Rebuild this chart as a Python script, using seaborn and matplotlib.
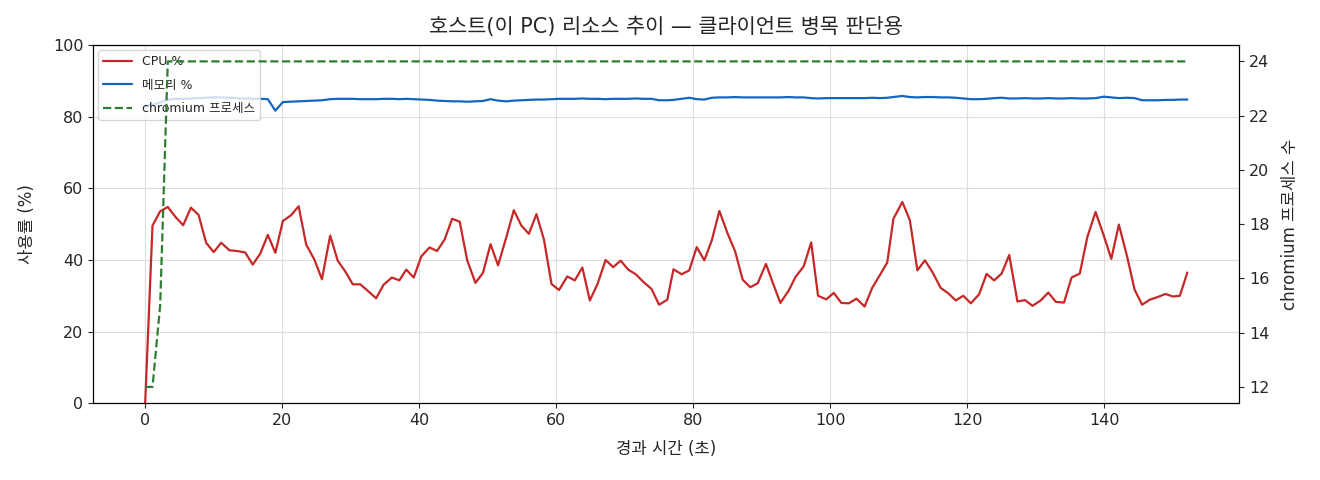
import matplotlib
matplotlib.use('Agg')
import matplotlib.pyplot as plt
import seaborn as sns

# 경과 시간(초), 그림에서 읽은 값
elapsed = [0, 1.07, 2.19, 3.3, 4.43, 5.55, 6.67, 7.79, 8.9, 10.0, 11.1, 12.3, 13.4, 14.6, 15.7, 16.8,
           17.9, 19.0, 20.1, 21.3, 22.4, 23.5, 24.7, 25.8, 27.0, 28.1, 29.2, 30.3, 31.4, 32.6, 33.7,
           34.8, 36.0, 37.1, 38.1,
           39.2, 40.3, 41.5, 42.6, 43.7, 44.8, 45.9, 47.0, 48.2, 49.3, 50.4, 51.5, 52.7, 53.8, 54.9,
           56.0, 57.1, 58.2, 59.3, 60.4, 61.6, 62.7, 63.8, 64.9, 66.0, 67.2, 68.3, 69.4, 70.5, 71.6,
           72.7, 73.9, 75.0, 76.2,
           77.1, 78.3, 79.4, 80.5, 81.6, 82.7, 83.8, 85.0, 86.1, 87.2, 88.3, 89.4, 90.6, 91.6, 92.7,
           93.9, 94.9, 96.1, 97.2, 98.2, 99.4, 100.5, 101.6, 102.7, 103.8, 105.0, 106.1, 107.2, 108.3,
           109.2, 110.5, 111.6, 112.7, 113.8,
           114.9, 116.1, 117.2, 118.3, 119.4, 120.5, 121.7, 122.8, 123.9, 125.0, 126.1, 127.3, 128.4,
           129.5, 130.7, 131.8, 132.9, 134.1, 135.2, 136.4, 137.5, 138.7, 139.9, 141.0, 142.1, 143.3,
           144.4, 145.5, 146.6, 147.7, 148.9, 150.0, 151.0, 152.1]

cpu = [0, 49.6, 53.6, 54.8, 52.0, 49.7, 54.6, 52.6, 44.8, 42.2, 44.8, 42.7, 42.5, 42.1, 38.7, 41.8,
       47.0, 42.0, 50.9, 52.5, 55.0, 44.3, 40.1, 34.6, 46.8, 39.8, 36.8, 33.2, 33.2, 31.2, 29.3,
       33.1, 35.1, 34.3, 37.3,
       35.1, 41.0, 43.5, 42.5, 45.7, 51.5, 50.7, 39.9, 33.6, 36.4, 44.4, 38.5, 46.3, 53.9, 49.6,
       47.3, 52.8, 45.7, 33.3, 31.6, 35.4, 34.3, 37.9, 28.7, 33.2, 40.0, 38.0, 39.8, 37.3, 36.0,
       33.9, 31.9, 27.5, 28.9,
       37.4, 36.0, 37.1, 43.6, 39.9, 45.5, 53.7, 47.4, 42.4, 34.5, 32.4, 33.5, 38.9, 33.6, 28.0,
       31.4, 35.2, 38.2, 44.9, 30.0, 29.0, 30.8, 28.0, 27.9, 29.2, 27.0, 32.2, 35.7, 39.3, 51.5,
       56.2, 51.1, 37.1, 39.9,
       36.6, 32.2, 30.7, 28.7, 30.0, 27.9, 30.4, 36.1, 34.3, 36.2, 41.4, 28.4, 28.8, 27.2, 28.7,
       30.9, 28.3, 28.1, 35.1, 36.2, 46.4, 53.4, 46.8, 40.3, 49.9, 41.0, 31.7, 27.5, 28.9, 29.6,
       30.5, 29.8, 30.0, 36.5]

memory = [83.0, 83.3, 84.0, 84.8, 85.0, 85.0, 85.1, 85.2, 85.3, 85.4, 85.4, 85.3, 85.2, 85.1, 85.0,
          85.0, 84.9, 81.7, 84.1, 84.2, 84.3, 84.4, 84.5, 84.6, 84.9, 85.0, 85.0, 85.0, 84.9, 84.9,
          84.9, 85.0, 85.0, 84.9, 85.0, 84.9, 84.8, 84.7, 84.5, 84.4, 84.3, 84.3, 84.2, 84.3, 84.4,
          84.9, 84.5, 84.3, 84.5, 84.6, 84.7, 84.8, 84.8, 84.9, 85.0, 85.0, 85.0, 85.1, 85.0, 85.0,
          84.9, 85.0, 85.0, 85.0, 85.1, 85.0, 85.0, 84.6, 84.6, 84.7, 85.0, 85.3, 84.9, 84.8, 85.3,
          85.4, 85.4, 85.5, 85.4, 85.4, 85.4, 85.4, 85.4, 85.4, 85.5, 85.4, 85.4, 85.2, 85.1, 85.2,
          85.2, 85.2, 85.2, 85.2, 85.2, 85.3, 85.2, 85.3, 85.5, 85.8, 85.5, 85.4, 85.5, 85.5, 85.4,
          85.4, 85.3, 85.1, 84.9, 84.9, 85.0, 85.2, 85.3, 85.1, 85.1, 85.2, 85.1, 85.1, 85.2, 85.1,
          85.1, 85.2, 85.1, 85.1, 85.2, 85.6, 85.4, 85.2, 85.3, 85.2, 84.6, 84.6, 84.6, 84.7, 84.7,
          84.8, 84.8]

chromium = [12, 12, 15] + [24] * 134

sns.set_style('ticks')
plt.rcParams['font.family'] = ['DejaVu Sans', 'Noto Sans CJK KR']
plt.rcParams['axes.unicode_minus'] = False

fig, ax = plt.subplots(figsize=(13.2, 4.8), dpi=100)
ax2 = ax.twinx()

sns.lineplot(x=elapsed, y=cpu, ax=ax, color='#c62828', linewidth=1.6, label='CPU %', legend=False)
sns.lineplot(x=elapsed, y=memory, ax=ax, color='#1565c0', linewidth=1.6, label='메모리 %', legend=False)
sns.lineplot(x=elapsed, y=chromium, ax=ax2, color='#2e7d32', linewidth=1.6, linestyle='--',
             label='chromium 프로세스', legend=False)

ax.set_ylim(0, 100)
ax.set_xlabel('경과 시간 (초)', fontsize=12, labelpad=9)
ax.set_ylabel('사용률 (%)', fontsize=12, labelpad=12)
ax2.set_ylabel('chromium 프로세스 수', fontsize=12, labelpad=8)
ax.set_title('호스트(이 PC) 리소스 추이 — 클라이언트 병목 판단용', fontsize=15, pad=9)
ax.tick_params(labelsize=11.5)
ax2.tick_params(labelsize=11.5)
ax.grid(True, color='#dddddd', linewidth=0.8)

lines = ax.get_lines() + ax2.get_lines()
ax.legend(lines, [l.get_label() for l in lines], loc='upper left', fontsize=9,
          labelspacing=0.85, handlelength=2.3, borderaxespad=0.4)

for a in (ax, ax2):
    for sp in a.spines.values():
        sp.set_color('black')

fig.subplots_adjust(left=0.0705, right=0.939, top=0.906, bottom=0.16)
fig.savefig('out.png', dpi=100)
